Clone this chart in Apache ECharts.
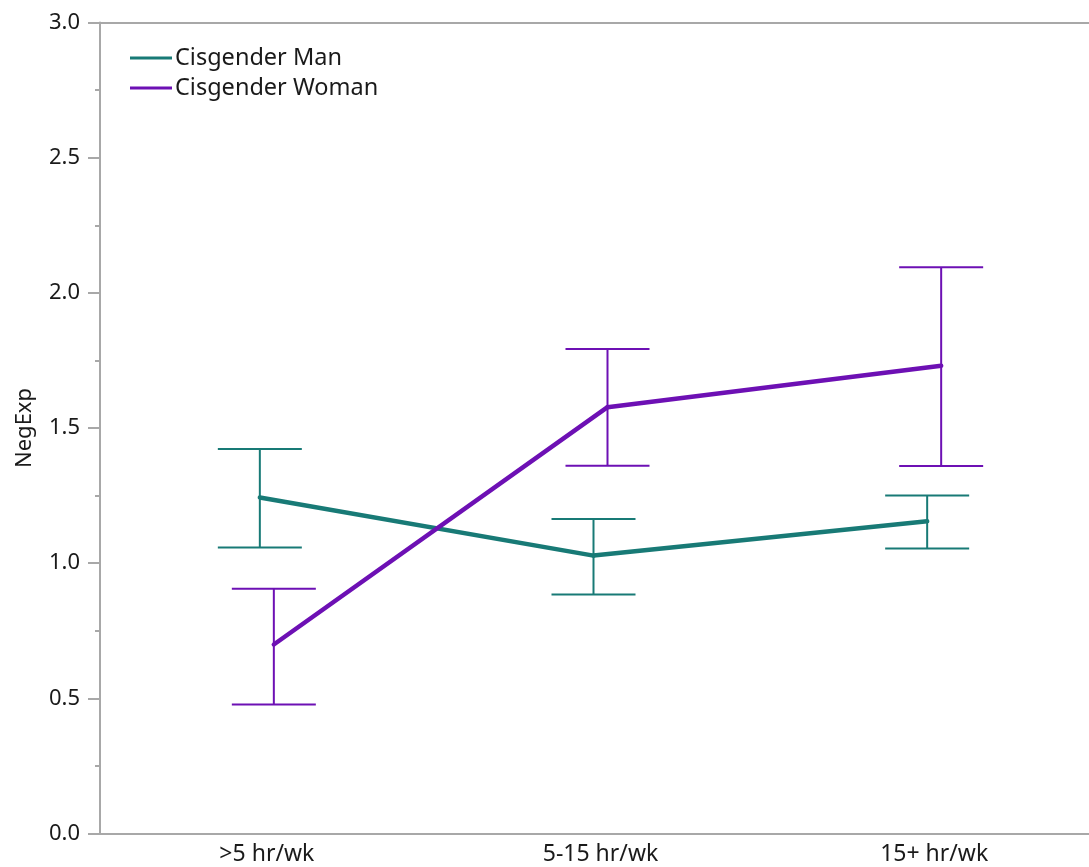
<!DOCTYPE html>
<html>
<head>
<meta charset="utf-8">
<title>NegExp by weekly hours</title>
<script src="https://cdn.jsdelivr.net/npm/echarts@6/dist/echarts.min.js"></script>
<style>
  html, body { margin: 0; padding: 0; background: #ffffff; overflow: hidden; }
  /* the plot area runs a little past the right edge of the window */
  #chart { width: 1101px; height: 867px; }
</style>
</head>
<body>
<div id="chart"></div>
<script>
// Weekly hour groups on the x axis
const categories = ['>5 hr/wk', '5-15 hr/wk', '15+ hr/wk'];

// Group means with lower / upper error-bar limits
const manMean = [1.243, 1.028, 1.155];
const manLow = [1.058, 0.884, 1.054];
const manHigh = [1.422, 1.163, 1.250];

const womanMean = [0.699, 1.577, 1.730];
const womanLow = [0.477, 1.360, 1.359];
const womanHigh = [0.905, 1.792, 2.095];

const yTicks = [0, 0.5, 1.0, 1.5, 2.0, 2.5, 3.0];

const TEAL = '#187a76';
const PURPLE = '#6d10b4';
const AXIS_GREY = '#a8a8a8';
const TEXT = '#1a1a1a';
const FONT = 'Noto Sans';

function buildData(mean, low, high) {
  return mean.map((m, i) => [i, m, low[i], high[i]]);
}

// Each item draws its error bar plus the segment joining it to the next mean
function makeRenderer(mean, color, dx) {
  return function (params, api) {
    const i = api.value(0);
    const c = api.coord([i, api.value(1)]);
    const lo = api.coord([i, api.value(2)]);
    const hi = api.coord([i, api.value(3)]);
    const x = c[0] + dx;
    const half = 42;
    const thin = { stroke: color, lineWidth: 2 };
    const children = [
      { type: 'line', shape: { x1: x, y1: hi[1], x2: x, y2: lo[1] }, style: thin },
      { type: 'line', shape: { x1: x - half, y1: hi[1], x2: x + half, y2: hi[1] }, style: thin },
      { type: 'line', shape: { x1: x - half, y1: lo[1], x2: x + half, y2: lo[1] }, style: thin }
    ];
    if (i < mean.length - 1) {
      const n = api.coord([i + 1, mean[i + 1]]);
      children.push({
        type: 'line',
        z2: 5,
        shape: { x1: x, y1: c[1], x2: n[0] + dx, y2: n[1] },
        style: { stroke: color, lineWidth: 4.5, lineCap: 'round' }
      });
    }
    return { type: 'group', children: children };
  };
}

const chart = echarts.init(document.getElementById('chart'), null, { renderer: 'canvas' });

chart.setOption({
  animation: false,
  backgroundColor: '#ffffff',
  textStyle: { fontFamily: FONT },
  grid: { left: 100, right: 0, top: 22.5, bottom: 33.5, containLabel: false },
  legend: {
    orient: 'vertical',
    left: 130,
    top: 45,
    padding: 0,
    icon: 'rect',
    itemWidth: 42,
    itemHeight: 3,
    itemGap: 4,
    textStyle: { fontFamily: FONT, fontSize: 23.5, color: TEXT, lineHeight: 26, padding: [0, 0, 0, -2] },
    data: [
      { name: 'Cisgender Man', itemStyle: { color: TEAL } },
      { name: 'Cisgender Woman', itemStyle: { color: PURPLE } }
    ]
  },
  xAxis: [
    {
      type: 'category',
      data: categories,
      boundaryGap: true,
      axisLine: { show: true, lineStyle: { color: AXIS_GREY, width: 2 } },
      axisTick: { show: false },
      axisLabel: { fontFamily: FONT, fontSize: 23, color: TEXT, margin: 9 },
      splitLine: { show: false }
    },
    {
      type: 'category',
      data: categories,
      position: 'top',
      axisLine: { show: true, lineStyle: { color: AXIS_GREY, width: 2 } },
      axisTick: { show: false },
      axisLabel: { show: false },
      splitLine: { show: false }
    }
  ],
  yAxis: {
    type: 'value',
    min: yTicks[0],
    max: yTicks[yTicks.length - 1],
    interval: 0.5,
    name: 'NegExp',
    nameLocation: 'middle',
    nameRotate: 90,
    nameGap: 64,
    nameTextStyle: { fontFamily: FONT, fontSize: 22, color: TEXT },
    axisLine: { show: true, lineStyle: { color: AXIS_GREY, width: 2 } },
    axisTick: { show: true, length: 12, lineStyle: { color: AXIS_GREY, width: 2 } },
    minorTick: { show: true, splitNumber: 2, length: 5, lineStyle: { color: AXIS_GREY, width: 2 } },
    axisLabel: {
      fontFamily: FONT,
      fontSize: 22,
      color: TEXT,
      margin: 20,
      formatter: v => v.toFixed(1)
    },
    splitLine: { show: false },
    minorSplitLine: { show: false }
  },
  series: [
    {
      name: 'Cisgender Man',
      type: 'custom',
      clip: false,
      itemStyle: { color: TEAL },
      data: buildData(manMean, manLow, manHigh),
      renderItem: makeRenderer(manMean, TEAL, -7)
    },
    {
      name: 'Cisgender Woman',
      type: 'custom',
      clip: false,
      itemStyle: { color: PURPLE },
      data: buildData(womanMean, womanLow, womanHigh),
      renderItem: makeRenderer(womanMean, PURPLE, 7)
    }
  ]
});
</script>
</body>
</html>
